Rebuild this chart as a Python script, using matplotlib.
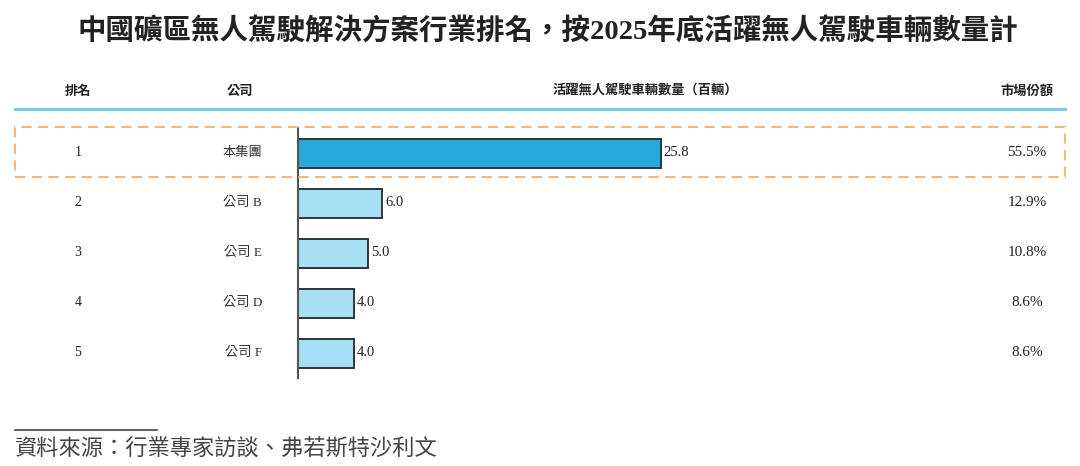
import matplotlib
matplotlib.use("Agg")
import matplotlib.pyplot as plt
import matplotlib.transforms as mtransforms
from matplotlib.patches import Rectangle
from matplotlib.lines import Line2D

plt.rcParams['font.family'] = ['Noto Sans CJK TC', 'DejaVu Sans']

# data
ranks = ["1", "2", "3", "4", "5"]
companies = ["本集團", "公司 B", "公司 E", "公司 D", "公司 F"]
vehicles = [25.8, 6.0, 5.0, 4.0, 4.0]
shares = ["55.5%", "12.9%", "10.8%", "8.6%", "8.6%"]

title = "中國礦區無人駕駛解決方案行業排名，按2025年底活躍無人駕駛車輛數量計"
headers = ["排名", "公司", "活躍無人駕駛車輛數量（百輛）", "市場份額"]
source = "資料來源：行業專家訪談、弗若斯特沙利文"

W, H = 1080, 466
fig = plt.figure(figsize=(W / 100, H / 100), dpi=100)
serif_cjk = ["Liberation Serif", "Noto Sans CJK TC"]

def fx(px):
    return px / W

def fy(py):
    return 1 - py / H

# bar axes: left edge at x=298px, rows from y=128px to 378px
ax = fig.add_axes([fx(298), fy(378), fx(1080 - 298), (378 - 128) / H])
ypos = list(range(len(vehicles)))
colors = ["#29a8dc"] + ["#a7dff4"] * (len(vehicles) - 1)
ax.barh(ypos, vehicles, height=0.58, color=colors, edgecolor="#2a3640", linewidth=1.4)
ax.set_xlim(0, 782 / 14.07)
ax.set_ylim(len(vehicles) - 0.5, -0.5)
for s in ["top", "right", "bottom"]:
    ax.spines[s].set_visible(False)
ax.spines["left"].set_color("#555555")
ax.spines["left"].set_linewidth(1.5)
ax.set_xticks([])
ax.set_yticks([])
ax.patch.set_alpha(0)

for i, v in enumerate(vehicles):
    ax.text(v + 0.2, i, f"{v:.1f}", va="center", ha="left", fontsize=10.5,
            family=["Liberation Serif"], color="#222222")

# table columns
row_tf = mtransforms.blended_transform_factory(fig.transFigure, ax.transData)
for i in ypos:
    ax.text(fx(78), i, ranks[i], transform=row_tf, ha="center", va="center",
            fontsize=10, family=["Liberation Serif"], color="#222222")
    ax.text(fx(262), i, companies[i], transform=row_tf, ha="right", va="center",
            fontsize=9.5, family=serif_cjk, color="#333333")
    ax.text(fx(1027), i, shares[i], transform=row_tf, ha="center", va="center",
            fontsize=11, family=["Liberation Serif"], color="#222222")

# headers
hy = fy(91)
hx = [78, 240, 645, 1027]
for x, h in zip(hx, headers):
    fig.text(fx(x), hy, h, ha="center", va="center", fontsize=9.5, fontweight="bold", color="#222222")
fig.add_artist(Line2D([fx(15), fx(1065)], [fy(109), fy(109)], color="#7ec8ea", lw=2.2,
                      transform=fig.transFigure))

# highlight box around row 1
fig.add_artist(Rectangle((fx(15), fy(177)), fx(1050), 50 / H, transform=fig.transFigure, fill=False,
                         edgecolor="#f5b87c", lw=1.5, linestyle=(0, (5, 3))))

# title
fig.text(fx(548), fy(32), title, ha="center", va="center", fontsize=20.5, fontweight="bold",
         family=serif_cjk, color="#222222")

# source
fig.add_artist(Line2D([fx(15), fx(157)], [fy(430), fy(430)], color="#444444", lw=1.2,
                      transform=fig.transFigure))
fig.text(fx(15), fy(449), source, ha="left", va="center", fontsize=16, style="italic", color="#444444")

fig.savefig("out.png", dpi=100)
